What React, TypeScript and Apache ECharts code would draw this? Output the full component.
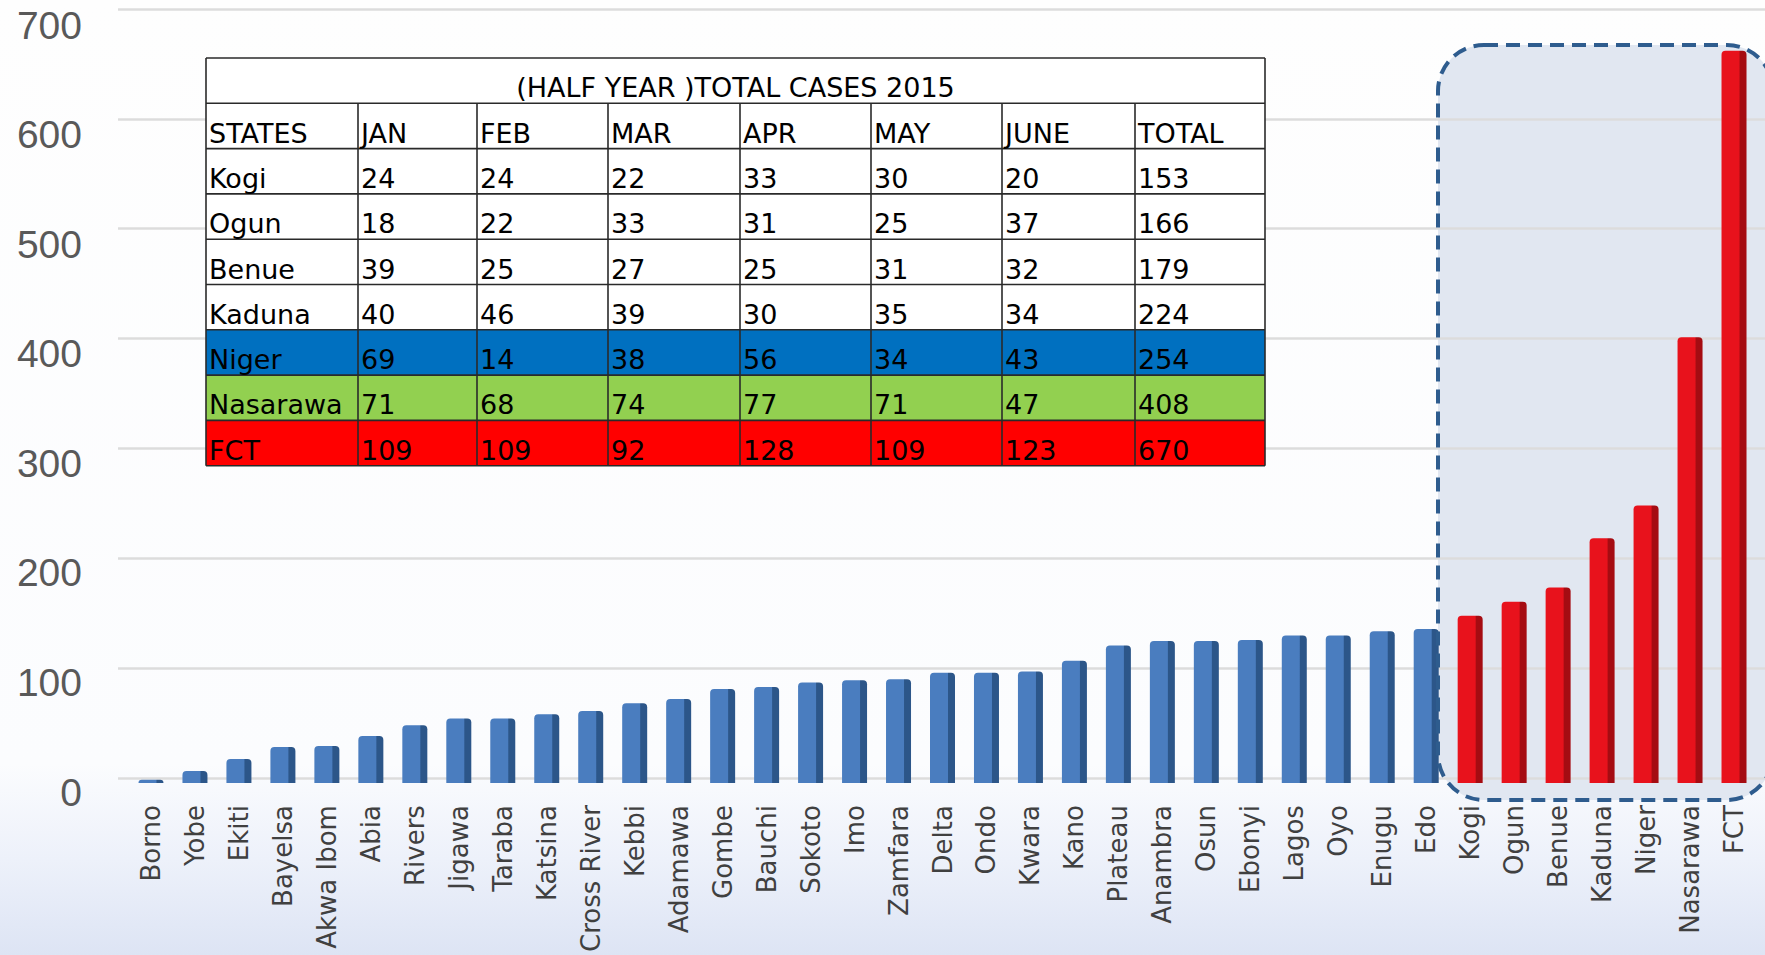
import React, { useEffect, useRef } from "react";
import * as echarts from "echarts";

// ---- Data ----
const states = [
  "Borno", "Yobe", "Ekiti", "Bayelsa", "Akwa Ibom", "Abia", "Rivers", "Jigawa", "Taraba", "Katsina",
  "Cross River", "Kebbi", "Adamawa", "Gombe", "Bauchi", "Sokoto", "Imo", "Zamfara", "Delta", "Ondo",
  "Kwara", "Kano", "Plateau", "Anambra", "Osun", "Ebonyi", "Lagos", "Oyo", "Enugu", "Edo",
  "Kogi", "Ogun", "Benue", "Kaduna", "Niger", "Nasarawa", "FCT",
];
const cases = [
  3, 11, 22, 33, 34, 43, 53, 59, 59, 63,
  66, 73, 77, 86, 88, 92, 94, 95, 101, 101,
  102, 112, 126, 130, 130, 131, 135, 135, 139, 141,
  153, 166, 179, 224, 254, 408, 670,
];
const yTicks = [0, 100, 200, 300, 400, 500, 600, 700];

const tableTitle = "(HALF YEAR )TOTAL CASES 2015";
const tableHeader = ["STATES", "JAN", "FEB", "MAR", "APR", "MAY", "JUNE", "TOTAL"];
const tableStates = ["Kogi", "Ogun", "Benue", "Kaduna", "Niger", "Nasarawa", "FCT"];
const janVals = [24, 18, 39, 40, 69, 71, 109];
const febVals = [24, 22, 25, 46, 14, 68, 109];
const marVals = [22, 33, 27, 39, 38, 74, 92];
const aprVals = [33, 31, 25, 30, 56, 77, 128];
const mayVals = [30, 25, 31, 35, 34, 71, 109];
const junVals = [20, 37, 32, 34, 43, 47, 123];
const totalVals = [153, 166, 179, 224, 254, 408, 670];
const rowFills = ["#ffffff", "#ffffff", "#ffffff", "#ffffff", "#0070c0", "#92d050", "#ff0000"];

// ---- Layout / style constants ----
const W = 1765;
const H = 955;
const FONT_LABEL = "'DejaVu Sans', sans-serif";
const FONT_AXIS = "'Liberation Sans', Arial, sans-serif";
const colX = [206, 358, 477, 608, 740, 871, 1002, 1135, 1265];
const tableTop = 58;
const rowH = 45.3;

function barGradient(front: string, side: string) {
  return new echarts.graphic.LinearGradient(0, 0, 1, 0, [
    { offset: 0, color: front },
    { offset: 0.7, color: front },
    { offset: 0.74, color: side },
    { offset: 1, color: side },
  ]);
}

function buildTable(): any[] {
  const els: any[] = [];
  const left = colX[0];
  const right = colX[colX.length - 1];
  const tableW = right - left;
  const rows: (string | number)[][] = tableStates.map((s, i) => [
    s, janVals[i], febVals[i], marVals[i], aprVals[i], mayVals[i], junVals[i], totalVals[i],
  ]);
  const nRows = rows.length + 2;
  const bottom = tableTop + nRows * rowH;
  els.push({ type: "rect", shape: { x: left, y: tableTop, width: tableW, height: nRows * rowH }, style: { fill: "#ffffff" }, z: 20 });
  rows.forEach((r, i) => {
    const y = tableTop + (i + 2) * rowH;
    els.push({ type: "rect", shape: { x: left, y, width: tableW, height: rowH }, style: { fill: rowFills[i] }, z: 21 });
  });
  els.push({
    type: "text", z: 23,
    style: { text: tableTitle, x: (left + right) / 2, y: tableTop + rowH - 2, align: "center", verticalAlign: "bottom", font: `27px ${FONT_LABEL}`, fill: "#000" },
  });
  const cellText = (t: string, ci: number, ri: number) => ({
    type: "text", z: 23,
    style: { text: t, x: colX[ci] + 3, y: tableTop + (ri + 1) * rowH - 2, align: "left", verticalAlign: "bottom", font: `27px ${FONT_LABEL}`, fill: "#000" },
  });
  tableHeader.forEach((h, ci) => els.push(cellText(h, ci, 1)));
  rows.forEach((r, ri) => r.forEach((v, ci) => els.push(cellText(String(v), ci, ri + 2))));
  for (let i = 0; i <= nRows; i++) {
    const y = tableTop + i * rowH;
    els.push({ type: "line", z: 22, shape: { x1: left, y1: y, x2: right, y2: y }, style: { stroke: "#2a2a2a", lineWidth: 1.6 } });
  }
  colX.forEach((x, i) => {
    const y1 = i === 0 || i === colX.length - 1 ? tableTop : tableTop + rowH;
    els.push({ type: "line", z: 22, shape: { x1: x, y1, x2: x, y2: bottom }, style: { stroke: "#2a2a2a", lineWidth: 1.6 } });
  });
  return els;
}

export default function App() {
  const ref = useRef<HTMLDivElement>(null);
  useEffect(() => {
    if (!ref.current) return;
    const chart = echarts.init(ref.current, null, { renderer: "svg" });
    const blue = barGradient("#4a7dbf", "#2c5689");
    const red = barGradient("#e8121c", "#a50c12");
    const data = states.map((s, i) => ({
      value: cases[i],
      itemStyle: { color: tableStates.includes(s) ? red : blue, borderRadius: [4, 4, 0, 0] },
    }));
    const yMin = yTicks[0];
    const yMax = yTicks[yTicks.length - 1];
    chart.setOption({
      animation: false,
      backgroundColor: new echarts.graphic.LinearGradient(0, 0, 0, 1, [
        { offset: 0, color: "#fefefe" },
        { offset: 0.8, color: "#fbfcfe" },
        { offset: 0.9, color: "#edf1fa" },
        { offset: 1, color: "#dde4f4" },
      ]),
      grid: [
        { left: 129, right: 9, top: 18, bottom: 170 },
        { left: 118, right: 0, top: 9, bottom: 177 },
        { left: 129, right: 9, top: 25, bottom: 163 },
      ],
      xAxis: [
        {
          type: "category", gridIndex: 0, data: states,
          axisLine: { show: false }, axisTick: { show: false },
          axisLabel: { interval: 0, rotate: 90, margin: 22, fontSize: 26, fontFamily: FONT_LABEL, color: "#404040" },
        },
        { type: "value", gridIndex: 1, show: false, min: 0, max: 1 },
        { type: "value", gridIndex: 2, show: false, min: 0, max: 1 },
      ],
      yAxis: [
        {
          type: "value", gridIndex: 0, min: yMin, max: yMax, interval: 100,
          axisLine: { show: false }, axisTick: { show: false }, splitLine: { show: false }, axisLabel: { show: false },
        },
        {
          type: "value", gridIndex: 1, min: yMin, max: yMax, interval: 100,
          axisLine: { show: false }, axisTick: { show: false }, axisLabel: { show: false },
          splitLine: { show: true, lineStyle: { color: "#dcdcdc", width: 2.5 } },
        },
        {
          type: "value", gridIndex: 2, min: yMin, max: yMax, interval: 100,
          axisLine: { show: false }, axisTick: { show: false }, splitLine: { show: false },
          axisLabel: { margin: 47, fontSize: 39, fontFamily: FONT_AXIS, color: "#595959" },
        },
      ],
      series: [
        { type: "bar", xAxisIndex: 0, yAxisIndex: 0, data, barWidth: 25, z: 5 },
      ],
      graphic: [
        {
          type: "rect", z: -1,
          shape: { x: 1438, y: 45, width: 335, height: 755, r: 46 },
          style: { fill: "#e1e7f1" },
        },
        {
          type: "rect", z: 30,
          shape: { x: 1438, y: 45, width: 335, height: 755, r: 46 },
          style: { fill: "none", stroke: "#2e5c8e", lineWidth: 4, lineDash: [14, 8] },
        },
        ...buildTable(),
      ],
    });
    return () => chart.dispose();
  }, []);
  return <div ref={ref} style={{ position: "fixed", left: 0, top: 0, width: W, height: H }} />;
}
